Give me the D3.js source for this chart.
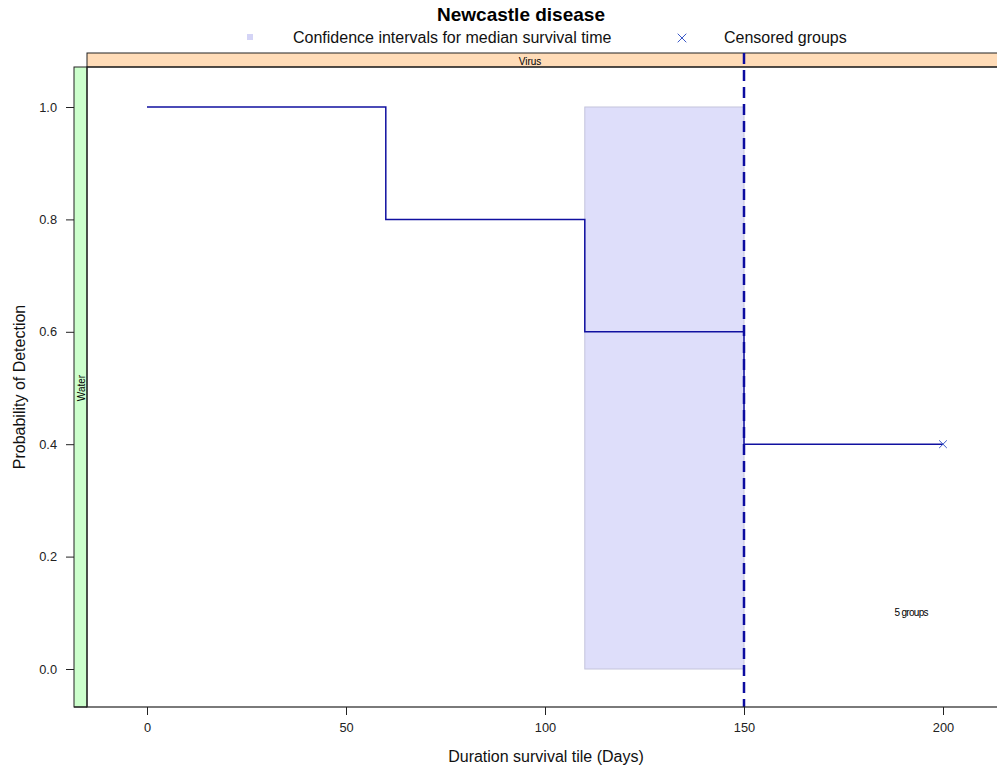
<!DOCTYPE html>
<html>
<head>
<meta charset="utf-8">
<script src="https://cdn.jsdelivr.net/npm/d3@7"></script>
<style>
body { margin: 0; background: #fff; }
text { font-family: "Liberation Sans", Arial, sans-serif; }
</style>
</head>
<body>
<div id="chart"></div>
<script>
var WIDTH = 997;
var HEIGHT = 769;

// survival step data
var times = [0, 60, 110, 150, 200];
var survival = [1.0, 0.8, 0.6, 0.4, 0.4];
var censoredTimes = [200];
var censoredValues = [0.4];
var ciLower = 110;
var ciUpper = 150;
var ciBottom = 0.0;
var ciTop = 1.0;
var medianTime = 150;
var xTicks = [0, 50, 100, 150, 200];
var yTicks = [0.0, 0.2, 0.4, 0.6, 0.8, 1.0];
var legendLabels = ["Confidence intervals for median survival time", "Censored groups"];

var PANEL_L = 87, PANEL_R = 1010, PANEL_T = 67, PANEL_B = 707;
var STRIP_L = 74;

var x = d3.scaleLinear().domain([0, 200]).range([147, 943]);
var y = d3.scaleLinear().domain([0, 1]).range([669, 107]);

var svg = d3.select("#chart").append("svg")
    .attr("width", WIDTH)
    .attr("height", HEIGHT);

// title
svg.append("text")
    .attr("x", 521).attr("y", 21)
    .attr("text-anchor", "middle")
    .attr("font-weight", "bold")
    .attr("font-size", 19)
    .text("Newcastle disease");

// legend
svg.append("rect")
    .attr("x", 247).attr("y", 34).attr("width", 6).attr("height", 6)
    .attr("fill", "#d4d4f6");
svg.append("text")
    .attr("x", 293).attr("y", 43)
    .attr("font-size", 16)
    .attr("fill", "#111")
    .text(legendLabels[0]);
svg.append("path")
    .attr("d", d3.symbol().type(d3.symbolX).size(50)())
    .attr("transform", "translate(682,38)")
    .attr("stroke", "#3a58c8").attr("stroke-width", 1).attr("fill", "none");
svg.append("text")
    .attr("x", 724).attr("y", 43)
    .attr("font-size", 16)
    .attr("fill", "#111")
    .text(legendLabels[1]);

// strips
svg.append("rect")
    .attr("x", PANEL_L).attr("y", 53)
    .attr("width", PANEL_R - PANEL_L).attr("height", PANEL_T - 53)
    .attr("fill", "#ffdcb8").attr("stroke", "#222").attr("stroke-width", 1);
svg.append("text")
    .attr("x", 530).attr("y", 65)
    .attr("text-anchor", "middle")
    .attr("font-size", 10)
    .text("Virus");
svg.append("rect")
    .attr("x", STRIP_L).attr("y", PANEL_T)
    .attr("width", PANEL_L - STRIP_L).attr("height", PANEL_B - PANEL_T)
    .attr("fill", "#ccffcc").attr("stroke", "#222").attr("stroke-width", 1);
svg.append("text")
    .attr("transform", "translate(85,388) rotate(-90)")
    .attr("text-anchor", "middle")
    .attr("font-size", 10)
    .text("Water");

// confidence interval
svg.append("rect")
    .attr("x", x(ciLower)).attr("y", y(ciTop))
    .attr("width", x(ciUpper) - x(ciLower))
    .attr("height", y(ciBottom) - y(ciTop))
    .attr("fill", "#dedefa").attr("stroke", "#c4c4dc").attr("stroke-width", 1);

// step curve
var pts = times.map(function (t, i) { return [t, survival[i]]; });
var line = d3.line()
    .x(function (d) { return x(d[0]); })
    .y(function (d) { return y(d[1]); })
    .curve(d3.curveStepAfter);
svg.append("path")
    .datum(pts)
    .attr("d", line)
    .attr("fill", "none")
    .attr("stroke", "#1010a0")
    .attr("stroke-width", 1.5);

// censored markers
svg.selectAll(".cens")
    .data(censoredTimes)
    .enter().append("path")
    .attr("class", "cens")
    .attr("d", d3.symbol().type(d3.symbolX).size(40)())
    .attr("transform", function (d, i) { return "translate(" + x(d) + "," + y(censoredValues[i]) + ")"; })
    .attr("stroke", "#3a58c8").attr("stroke-width", 1).attr("fill", "none");

// median line
svg.append("line")
    .attr("x1", x(medianTime)).attr("x2", x(medianTime))
    .attr("y1", PANEL_T - 14).attr("y2", PANEL_B)
    .attr("stroke", "#0c0ca0")
    .attr("stroke-width", 2.5)
    .attr("stroke-dasharray", "11,6");

svg.append("text")
    .attr("x", x(192)).attr("y", y(0.1) + 3)
    .attr("text-anchor", "middle")
    .attr("font-size", 10)
    .attr("letter-spacing", -0.7)
    .text("5 groups");

// panel border
svg.append("rect")
    .attr("x", PANEL_L).attr("y", PANEL_T)
    .attr("width", PANEL_R - PANEL_L).attr("height", PANEL_B - PANEL_T)
    .attr("fill", "none").attr("stroke", "#222").attr("stroke-width", 1.2);
svg.append("line")
    .attr("x1", STRIP_L).attr("x2", PANEL_L)
    .attr("y1", PANEL_B).attr("y2", PANEL_B)
    .attr("stroke", "#222").attr("stroke-width", 1.2);

// axes
var xAxis = d3.axisBottom(x).tickValues(xTicks).tickSize(8).tickPadding(8);
var gx = svg.append("g").attr("transform", "translate(0," + PANEL_B + ")").call(xAxis);
gx.select(".domain").remove();
gx.selectAll("text").attr("font-size", 12.8).attr("font-family", "Liberation Sans, Arial, sans-serif").attr("fill", "#222");
gx.selectAll("line").attr("stroke", "#222");

var yAxis = d3.axisLeft(y).tickValues(yTicks).tickFormat(d3.format(".1f")).tickSize(8).tickPadding(9);
var gy = svg.append("g").attr("transform", "translate(" + STRIP_L + ",0)").call(yAxis);
gy.select(".domain").remove();
gy.selectAll("text").attr("font-size", 12.8).attr("font-family", "Liberation Sans, Arial, sans-serif").attr("fill", "#222");
gy.selectAll("line").attr("stroke", "#222");

// axis labels
svg.append("text")
    .attr("x", 546).attr("y", 762)
    .attr("text-anchor", "middle")
    .attr("font-size", 16)
    .attr("fill", "#111")
    .text("Duration survival tile (Days)");
svg.append("text")
    .attr("transform", "translate(25,387) rotate(-90)")
    .attr("text-anchor", "middle")
    .attr("font-size", 16)
    .attr("fill", "#111")
    .text("Probability of Detection");
</script>
</body>
</html>
